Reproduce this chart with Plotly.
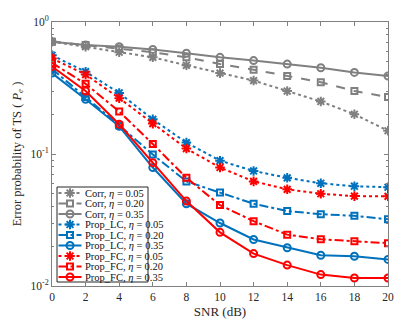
import plotly.graph_objects as go

snr = [0, 2, 4, 6, 8, 10, 12, 14, 16, 18, 20]

corr_005 = [0.71, 0.65, 0.59, 0.54, 0.47, 0.41, 0.36, 0.30, 0.25, 0.20, 0.15]
corr_020 = [0.71, 0.67, 0.63, 0.59, 0.54, 0.48, 0.435, 0.39, 0.35, 0.30, 0.27]
corr_035 = [0.71, 0.67, 0.65, 0.62, 0.58, 0.54, 0.51, 0.48, 0.45, 0.415, 0.39]

lc_005 = [0.56, 0.42, 0.29, 0.183, 0.122, 0.089, 0.0744, 0.066, 0.060, 0.057, 0.056]
lc_020 = [0.44, 0.27, 0.165, 0.099, 0.062, 0.051, 0.042, 0.037, 0.035, 0.034, 0.032]
lc_035 = [0.41, 0.26, 0.162, 0.079, 0.042, 0.030, 0.0225, 0.0195, 0.0171, 0.0168, 0.0159]

fc_005 = [0.53, 0.40, 0.265, 0.17, 0.110, 0.079, 0.062, 0.054, 0.050, 0.048, 0.0478]
fc_020 = [0.49, 0.34, 0.21, 0.119, 0.066, 0.041, 0.031, 0.0245, 0.0226, 0.0218, 0.0211]
fc_035 = [0.46, 0.30, 0.168, 0.086, 0.044, 0.0255, 0.0176, 0.0144, 0.0122, 0.0115, 0.0115]

names = ["Corr, <i>η</i> = 0.05", "Corr, <i>η</i> = 0.20", "Corr, <i>η</i> = 0.35",
         "Prop_LC, <i>η</i> = 0.05", "Prop_LC, <i>η</i> = 0.20", "Prop_LC, <i>η</i> = 0.35",
         "Prop_FC, <i>η</i> = 0.05", "Prop_FC, <i>η</i> = 0.20", "Prop_FC, <i>η</i> = 0.35"]
series = [corr_005, corr_020, corr_035, lc_005, lc_020, lc_035, fc_005, fc_020, fc_035]

GRAY = "#808080"
BLUE = "#0072BD"
RED = "#FF0000"
colors = [GRAY] * 3 + [BLUE] * 3 + [RED] * 3
dashes = ["dot", "dash", "solid", "dot", "dashdot", "solid", "dot", "dashdot", "solid"]
symbols = ["asterisk-open", "square-open", "circle-open"] * 3
msize = {"asterisk-open": 8, "square-open": 6, "circle-open": 7}


def mk(s, c):
    return dict(symbol=s, size=msize[s], color=c, line=dict(color=c, width=2))


fig = go.Figure()
for name, ys, c, d, s in zip(names, series, colors, dashes, symbols):
    fig.add_trace(go.Scatter(
        x=snr, y=ys, name=name, mode="lines+markers", showlegend=False,
        line=dict(color=c, dash=d, width=2), marker=mk(s, c),
    ))

# compact MATLAB-style legend drawn on a hidden overlay axis (window pixel units)
font = "Liberation Serif, Times New Roman, serif"
L_X0, L_X1, L_Y0, L_Y1 = 57, 148, 187, 282
row0, row_h = 193, 10.5
fig.add_trace(go.Scatter(
    x=[L_X0, L_X1, L_X1, L_X0, L_X0], y=[L_Y0, L_Y0, L_Y1, L_Y1, L_Y0],
    xaxis="x2", yaxis="y2", mode="lines", fill="toself", fillcolor="white",
    line=dict(color="#262626", width=1), showlegend=False, hoverinfo="skip"))
for i, (name, c, d, s) in enumerate(zip(names, colors, dashes, symbols)):
    yy = row0 + i * row_h
    fig.add_trace(go.Scatter(
        x=[58.5, 81.5], y=[yy, yy], xaxis="x2", yaxis="y2",
        mode="lines", line=dict(color=c, dash=d, width=2),
        showlegend=False, hoverinfo="skip"))
    fig.add_trace(go.Scatter(
        x=[70], y=[yy], xaxis="x2", yaxis="y2", mode="markers", marker=mk(s, c),
        showlegend=False, hoverinfo="skip"))
    fig.add_annotation(x=82.5, y=yy, xref="x2", yref="y2", text=name,
                       showarrow=False, xanchor="left", yanchor="middle",
                       font=dict(family=font, size=10.5, color="#111111"))

minor_vals = [k * 10 ** e for e in (-2, -1) for k in range(2, 10)]
# page body has an 8px default margin, so the figure is sized/offset to compensate
fig.update_layout(
    width=407, height=327,
    margin=dict(l=44, r=27, t=14, b=49, autoexpand=False),
    paper_bgcolor="white", plot_bgcolor="white",
    font=dict(family=font, size=11, color="#262626"),
    showlegend=False,
    xaxis=dict(
        range=[0, 20], tickvals=list(range(0, 21, 2)),
        ticks="inside", ticklen=4, tickcolor=GRAY,
        showline=True, linecolor=GRAY, linewidth=1, mirror="ticks",
        showgrid=False, zeroline=False, automargin=False,
        title=dict(text="SNR (dB)", font=dict(family=font, size=13), standoff=5),
        tickfont=dict(family=font, size=11.5, color="#262626"),
    ),
    yaxis=dict(
        type="log", range=[-2, 0],
        tickvals=[0.01, 0.1, 1], ticktext=["10<sup>-2</sup>", "10<sup>-1</sup>", "10<sup>0</sup>"],
        ticks="inside", ticklen=4, tickcolor=GRAY,
        minor=dict(tickvals=minor_vals, ticks="inside", ticklen=2, tickcolor=GRAY, showgrid=False),
        showline=True, linecolor=GRAY, linewidth=1, mirror="ticks",
        showgrid=False, zeroline=False, automargin=False,
        title=dict(text="Error probability of TS ( <i>P</i><sub><i>e</i></sub> )",
                   font=dict(family=font, size=12.5), standoff=6),
        tickfont=dict(family=font, size=11.5, color="#262626"),
    ),
    xaxis2=dict(overlaying="x", range=[52, 388], visible=False, fixedrange=True),
    yaxis2=dict(overlaying="y", range=[286, 22], visible=False, fixedrange=True),
)

fig.write_html("out.html")
